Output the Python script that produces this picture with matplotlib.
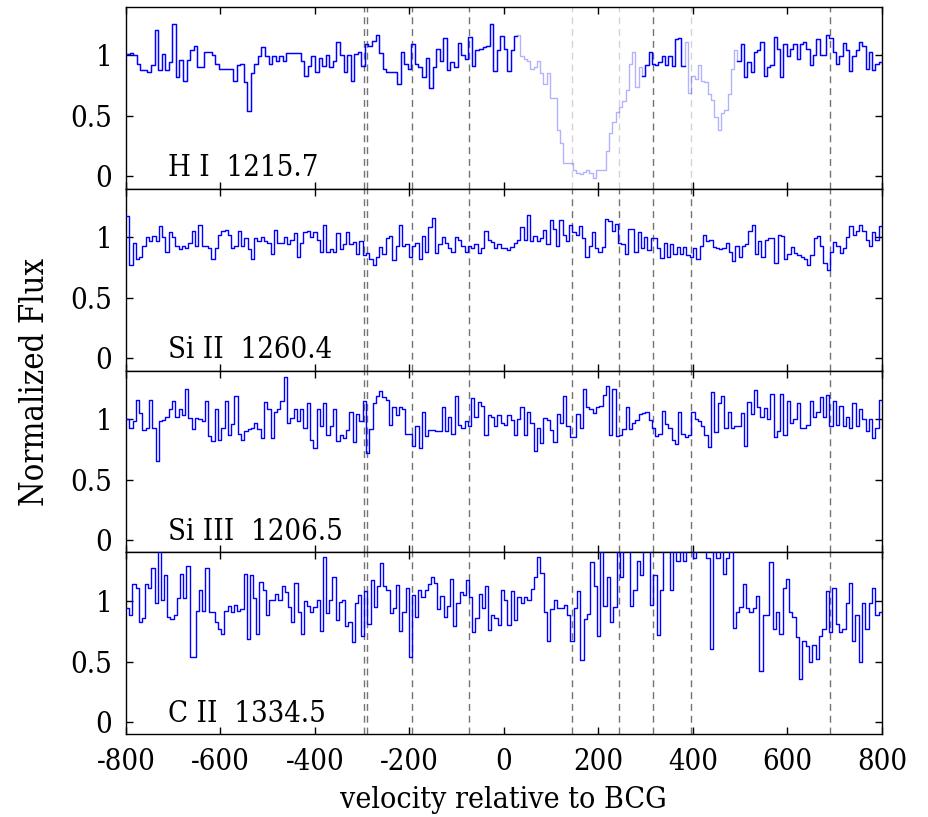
import numpy as np
import matplotlib
matplotlib.use('Agg')
import matplotlib.pyplot as plt

# ---------------- data ----------------
# H I 1215.7 : flux in equal-width bins over [-800, 0] and [0, 800] km/s
hi_neg = [1.01,1.02,1.00,0.93,0.88,0.88,0.86,0.92,1.21,0.88,
          1.01,0.88,0.94,1.26,0.82,0.96,0.79,0.96,1.04,1.08,
          0.90,0.90,1.03,1.03,1.00,0.93,0.89,0.89,0.89,0.89,
          0.79,0.92,0.93,0.78,0.54,0.85,0.93,0.99,1.07,0.99,
          0.93,0.99,0.95,0.99,0.95,1.02,1.02,1.02,1.02,0.95,
          0.83,0.91,0.99,0.86,0.98,0.91,1.00,0.90,0.95,1.11,
          1.00,0.86,1.00,0.79,1.01,1.03,0.91,1.09,1.08,1.12,
          1.17,1.02,0.89,0.86,0.86,0.86,0.76,1.03,0.93,0.89,
          1.09,0.93,0.90,0.82,0.98,0.73,0.90,1.05,0.95,1.14,
          0.88,0.94,0.90,1.10,1.00,0.97,1.15,0.91,1.04,1.05,
          1.07,1.08,1.26,0.87,1.04,1.16]
hi_pos = [1.05,0.87,1.04,1.16,
          1.17,0.99,0.97,0.95,0.89,0.90,0.95,0.85,0.76,0.85,0.65,0.65,0.38,0.28,
          0.11,0.11,0.11,0.05,0.03,0.02,0.04,0.05,0.03,-0.01,0.05,0.05,0.05,0.21,
          0.36,0.45,0.53,0.57,0.62,0.71,0.93,1.03,0.74,0.90,
          0.83,0.92,1.03,0.93,0.92,0.94,0.99,0.92,0.99,0.91,1.13,1.14,0.91,
          1.11,0.69,0.83,0.80,0.92,0.79,0.78,0.68,0.63,0.49,0.38,0.52,0.55,0.68,
          0.89,1.04,
          0.95,1.09,0.82,0.94,0.86,1.03,1.04,1.11,0.83,0.90,0.92,1.15,1.05,0.82,
          1.09,0.99,1.05,1.09,0.97,1.09,1.11,1.05,0.92,1.00,1.13,1.00,1.00,1.17,
          1.14,1.03,0.93,0.99,1.10,1.04,0.87,0.99,1.04,1.11,1.08,0.89,1.03,0.88,
          0.93,0.94]
hi_masked = [(28, 292), (383, 494)]   # velocity ranges shown faded

si2_neg = [1.17,0.77,0.95,0.82,0.84,0.93,1.00,0.97,1.01,0.97,1.09,1.00,0.88,1.04,
           1.00,0.93,0.90,0.93,0.91,0.95,1.05,0.93,1.10,0.93,0.93,0.91,0.82,0.91,
           1.02,1.05,1.06,1.02,0.91,0.93,1.05,0.93,0.99,0.90,0.82,0.99,0.97,1.00,
           0.97,0.95,0.86,1.06,0.95,0.95,1.00,0.94,0.98,1.03,0.84,0.95,1.04,1.05,
           1.00,1.04,0.98,0.88,1.10,0.88,0.90,0.88,1.03,0.90,0.94,1.04,0.94,0.96,
           0.86,0.97,0.85,0.87,0.82,0.77,0.84,0.92,0.86,0.99,1.01,0.81,0.93,1.10,
           0.93,0.94,0.84,0.93,0.95,0.82,1.01,0.88,1.08,1.16,0.87,0.94,1.00,0.95,
           0.91,0.88,1.00,0.98,0.93,0.88,0.93,0.91,0.94,0.87,0.91,1.05,0.98,0.96,
           0.91,0.94,0.91]
si2_pos = [0.91,0.89,0.92,0.95,0.98,1.08,0.98,1.18,0.97,1.01,0.97,0.99,1.06,0.94,
           1.14,1.07,0.93,1.14,1.02,0.97,1.10,1.04,1.02,1.09,0.99,0.84,0.93,1.04,
           0.91,0.88,0.92,1.15,1.13,1.05,1.11,0.95,0.94,0.86,1.07,1.07,0.88,1.04,
           0.91,1.00,0.89,0.99,0.99,0.91,0.83,0.95,0.84,0.94,0.86,0.92,0.86,0.92,
           0.85,0.84,0.91,0.82,0.93,1.02,0.97,0.98,0.92,0.91,0.90,0.91,0.95,0.88,
           0.80,0.93,0.84,0.93,0.94,1.05,1.10,0.86,0.97,0.84,0.98,0.99,0.99,0.79,
           1.02,1.01,0.82,0.86,0.92,0.87,0.85,0.84,0.82,0.77,0.85,0.99,1.01,0.93,
           0.79,0.73,0.88,0.96,0.93,0.87,0.91,1.00,1.09,1.02,1.05,1.10,1.05,0.98,
           0.93,1.04,0.98,1.09]

si3_neg = [1.00,0.93,0.98,1.16,1.05,0.91,0.93,1.16,0.93,0.65,0.98,0.99,1.02,1.08,
           1.15,1.02,1.08,1.03,1.25,1.01,0.92,1.01,1.00,0.98,1.15,0.86,0.82,1.08,
           0.83,0.93,1.15,0.87,0.96,1.19,0.88,0.83,0.90,0.92,0.93,0.97,0.92,0.84,
           1.14,1.08,0.84,1.06,1.08,1.15,1.35,0.97,1.01,1.08,0.98,1.08,0.93,1.13,
           0.83,0.76,1.08,0.94,1.13,0.87,0.94,1.08,0.82,0.87,0.84,0.91,1.06,0.81,
           1.04,0.98,1.15,0.72,0.92,1.13,1.19,1.23,1.18,1.16,0.95,1.10,1.03,1.10,
           1.08,0.88,0.88,0.78,0.94,0.76,1.06,0.86,0.91,0.91,0.90,0.90,1.10,0.90,
           1.02,0.88,1.19,0.95,0.93,0.98,0.94,1.17,1.02,1.14,1.11,0.87,1.03,1.02,
           0.94,1.03,0.97]
si3_pos = [0.95,1.03,0.99,0.87,1.00,1.10,0.87,1.06,0.97,0.74,0.93,0.80,1.01,0.99,
           0.91,0.81,1.04,0.97,1.19,0.94,0.85,0.85,1.04,0.93,1.25,1.10,1.08,1.05,
           1.10,1.11,1.20,1.27,0.87,1.25,0.86,0.87,0.92,1.10,0.92,0.97,0.99,1.04,
           1.05,1.06,0.99,0.93,0.86,0.88,1.07,0.96,0.93,0.83,0.79,1.06,0.88,0.85,
           0.87,1.06,1.00,0.98,0.94,0.87,0.77,1.22,0.89,1.13,1.19,0.93,1.06,0.93,
           0.94,0.94,1.05,0.78,1.14,1.04,1.24,1.10,1.02,1.09,1.00,1.21,0.85,0.90,
           1.21,0.87,1.15,0.97,1.00,1.13,0.93,0.93,0.95,1.15,1.02,1.06,1.18,1.02,
           1.20,0.94,1.15,0.95,1.11,0.94,1.02,0.93,1.13,0.94,1.08,1.00,0.90,1.00,
           0.84,0.93,1.16]

c2_neg = [0.94,0.88,1.14,1.11,0.83,0.86,1.14,1.11,1.27,0.98,1.45,1.01,1.21,0.87,
          0.85,0.88,1.02,1.22,1.02,1.29,0.54,0.54,0.92,1.09,0.92,1.27,0.91,0.91,
          0.83,0.77,0.73,0.92,0.96,0.91,0.97,0.92,0.93,1.22,0.69,1.21,1.02,0.73,
          1.16,1.09,0.88,1.01,1.01,1.06,1.01,1.12,1.07,0.95,0.83,1.15,0.91,0.73,
          1.00,0.96,0.91,0.95,1.01,0.75,1.36,0.90,1.01,1.20,0.84,0.99,1.01,0.79,
          0.83,0.66,0.98,1.05,0.71,1.08,0.81,1.17,0.95,1.12,1.31,1.12,1.09,0.90,
          0.94,1.13,0.75,0.91,1.11,0.54,1.05,0.87,1.09,1.03,1.09,1.14,1.20,1.15,
          0.93,1.04,0.87,0.96,1.18,0.79,0.98,1.07,1.05,1.17,1.03,0.74,0.86,1.06,
          0.94,1.12,0.76,0.88,0.86,0.80,1.09]
c2_pos = [1.01,0.80,1.08,0.84,1.03,0.98,1.03,1.01,1.10,1.20,1.36,1.23,0.91,0.67,
          0.93,1.01,0.94,0.94,0.97,0.88,0.67,0.94,1.08,0.51,0.85,0.89,1.32,1.12,
          0.71,1.50,0.96,1.20,0.83,0.95,1.50,1.20,1.50,1.50,0.96,1.09,1.33,1.21,
          1.50,1.50,0.97,1.21,0.72,1.09,1.50,1.50,1.09,1.50,1.33,1.50,1.33,1.50,
          1.50,1.35,1.50,1.50,1.50,1.35,0.60,1.50,1.35,1.50,1.22,1.35,1.50,0.78,
          0.91,0.95,1.14,0.94,0.91,0.94,1.04,0.42,0.88,0.88,1.32,0.77,0.91,0.73,
          1.11,1.18,0.91,0.87,0.70,0.36,0.67,0.63,0.50,0.64,0.52,0.71,0.77,1.08,
          0.74,1.11,0.81,0.74,0.77,0.98,1.15,0.67,0.88,0.50,0.98,0.77,0.98,1.11,
          0.88,0.91]

component_velocities = [-296, -290, -195, -75, 143, 244, 316, 395, 691]
panel_labels = ["H I  1215.7", "Si II  1260.4", "Si III  1206.5", "C II  1334.5"]
xticks = [-800, -600, -400, -200, 0, 200, 400, 600, 800]
yticks = [0, 0.5, 1]
ytick_labels = ["0", "0.5", "1"]

# ---------------- plotting ----------------
plt.rcParams['font.family'] = ['DejaVu Serif Condensed', 'DejaVu Serif']
plt.rcParams['font.stretch'] = 'condensed'
FS = 21

fig = plt.figure(figsize=(9.29, 8.17), dpi=100)
gs = fig.add_gridspec(4, 1, left=0.1356, right=0.9494, top=0.9918,
                      bottom=0.1012, hspace=0)

panels = [(hi_neg, hi_pos, hi_masked), (si2_neg, si2_pos, []),
          (si3_neg, si3_pos, []), (c2_neg, c2_pos, [])]

axes = []
for i, (neg, pos, masked) in enumerate(panels):
    ax = fig.add_subplot(gs[i, 0])
    axes.append(ax)
    edges = np.concatenate([np.linspace(-800, 0, len(neg) + 1)[:-1],
                            np.linspace(0, 800, len(pos) + 1)])
    flux = np.array(neg + pos, dtype=float)
    centers = 0.5 * (edges[:-1] + edges[1:])
    in_mask = np.zeros(len(flux), dtype=bool)
    for lo, hi in masked:
        in_mask |= (centers > lo) & (centers < hi)

    for v in component_velocities:
        faded = any(lo < v < hi for lo, hi in masked)
        ax.axvline(v, color='0.45', lw=1.0, ls=(0, (5, 3.5)),
                   alpha=0.3 if faded else 1.0, zorder=1)

    y_all = np.append(flux, flux[-1])
    if masked:
        ax.step(edges, y_all, where='post', color='blue', alpha=0.3, lw=1.0,
                zorder=2)
    dark = flux.copy()
    dark[in_mask] = np.nan
    ax.step(edges, np.append(dark, dark[-1]), where='post', color='blue',
            lw=1.0, zorder=3)

    ax.set_xlim(-800, 800)
    ax.set_ylim(-0.1, 1.4)
    ax.set_yticks(yticks)
    ax.set_yticklabels(ytick_labels)
    ax.set_xticks(xticks)
    ax.tick_params(direction='in', top=True, right=True, length=5, width=1,
                   labelsize=FS, pad=10)
    for s in ax.spines.values():
        s.set_linewidth(1.0)
    if i < 3:
        ax.tick_params(labelbottom=False)
    else:
        ax.set_xticklabels([str(t) for t in xticks])
    ax.text(-710, 0.0, panel_labels[i], fontsize=FS, va='baseline', ha='left')

fig.text(0.038, 0.532, "Normalized Flux", rotation=90, fontsize=23.5,
         ha='center', va='center')
fig.text(0.5414, 0.021, "velocity relative to BCG", fontsize=21.7,
         ha='center', va='center')

fig.savefig('out.png', dpi=100)
